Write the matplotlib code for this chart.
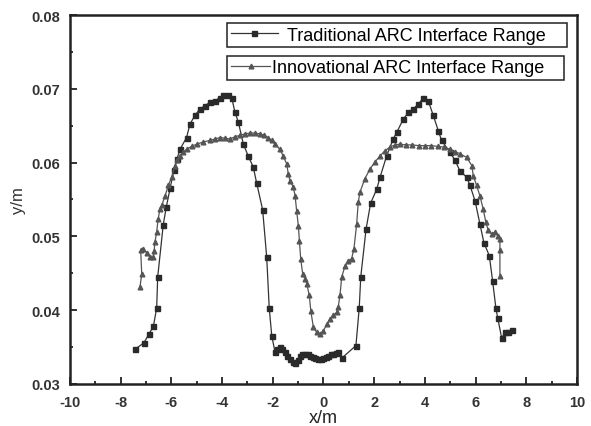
import matplotlib
matplotlib.use("Agg")
import matplotlib.pyplot as plt
from matplotlib.ticker import MultipleLocator, FormatStrFormatter

plt.rcParams["font.family"] = ["Liberation Sans", "DejaVu Sans"]
plt.rcParams["axes.unicode_minus"] = False

# Traditional ARC interface range (square markers)
trad_x = [-7.43, -7.08, -6.88, -6.71, -6.58, -6.54, -6.32, -6.20, -6.05, -5.90,
          -5.78, -5.66, -5.40, -5.27, -5.07, -4.87, -4.67, -4.48, -4.28, -4.08,
          -3.95, -3.75, -3.62, -3.49, -3.36, -3.16, -2.97, -2.77, -2.64, -2.40,
          -2.24, -2.14, -2.04, -1.91, -1.82, -1.72, -1.62, -1.52, -1.42, -1.32,
          -1.22, -1.12, -1.02, -0.93, -0.83, -0.73, -0.63, -0.53, -0.43, -0.34,
          -0.20, -0.10, 0.00, 0.10, 0.19, 0.29, 0.39, 0.49, 0.58, 0.72,
          1.28, 1.41, 1.47, 1.68, 1.86, 2.10, 2.23, 2.49, 2.75, 2.89,
          3.15, 3.35, 3.54, 3.74, 3.94, 4.13, 4.33, 4.53, 4.66, 4.99,
          5.19, 5.38, 5.65, 5.78, 5.98, 6.17, 6.33, 6.54, 6.67, 6.80,
          6.87, 7.03, 7.16, 7.29, 7.42]
trad_y = [0.0347, 0.0356, 0.0368, 0.0378, 0.0403, 0.0445, 0.0516, 0.0540, 0.0565, 0.0590,
          0.0605, 0.0618, 0.0634, 0.0652, 0.0664, 0.0673, 0.0677, 0.0682, 0.0684, 0.0688,
          0.0691, 0.0691, 0.0688, 0.0668, 0.0655, 0.0625, 0.0609, 0.0594, 0.0573, 0.0536,
          0.0472, 0.0403, 0.0365, 0.0343, 0.0347, 0.0350, 0.0347, 0.0343, 0.0338, 0.0334,
          0.0330, 0.0329, 0.0333, 0.0338, 0.0340, 0.0341, 0.0340, 0.0338, 0.0336, 0.0335,
          0.0334, 0.0334, 0.0335, 0.0336, 0.0338, 0.0340, 0.0341, 0.0342, 0.0343, 0.0335,
          0.0352, 0.0403, 0.0445, 0.0510, 0.0545, 0.0564, 0.0580, 0.0609, 0.0632, 0.0641,
          0.0659, 0.0668, 0.0673, 0.0679, 0.0688, 0.0684, 0.0664, 0.0643, 0.0630, 0.0614,
          0.0603, 0.0589, 0.0580, 0.0569, 0.0548, 0.0517, 0.0491, 0.0474, 0.0440, 0.0403,
          0.0390, 0.0362, 0.0370, 0.0371, 0.0373]

# Innovational ARC interface range (triangle markers)
inno_x = [-7.24, -7.17, -7.21, -7.11, -6.97, -6.84, -6.71, -6.68, -6.65, -6.58,
          -6.52, -6.45, -6.38, -6.25, -6.12, -5.99, -5.86, -5.76, -5.66, -5.53,
          -5.40, -5.20, -5.00, -4.74, -4.48, -4.28, -4.08, -3.88, -3.69, -3.49,
          -3.29, -3.10, -2.90, -2.70, -2.50, -2.34, -2.18, -2.05, -1.91, -1.72,
          -1.59, -1.45, -1.39, -1.32, -1.19, -1.12, -1.06, -0.99, -0.95, -0.90,
          -0.82, -0.73, -0.66, -0.56, -0.50, -0.40, -0.27, -0.14, 0.00, 0.13,
          0.26, 0.39, 0.52, 0.58, 0.65, 0.72, 0.85, 0.98, 1.11, 1.20,
          1.31, 1.37, 1.44, 1.63, 1.83, 2.03, 2.23, 2.42, 2.62, 2.82,
          3.02, 3.26, 3.50, 3.75, 4.00, 4.25, 4.50, 4.75, 4.99, 5.19,
          5.38, 5.65, 5.85, 5.91, 6.04, 6.17, 6.30, 6.40, 6.50, 6.64,
          6.77, 6.90, 6.96, 6.96, 6.96]
inno_y = [0.0431, 0.0449, 0.0481, 0.0483, 0.0478, 0.0472, 0.0472, 0.0480, 0.0492, 0.0506,
          0.0524, 0.0537, 0.0542, 0.0555, 0.0569, 0.0580, 0.0596, 0.0603, 0.0609, 0.0614,
          0.0618, 0.0622, 0.0625, 0.0628, 0.0630, 0.0632, 0.0634, 0.0633, 0.0632, 0.0635,
          0.0637, 0.0639, 0.0640, 0.0640, 0.0639, 0.0637, 0.0634, 0.0630, 0.0625, 0.0618,
          0.0609, 0.0598, 0.0585, 0.0575, 0.0567, 0.0555, 0.0535, 0.0514, 0.0494, 0.0470,
          0.0449, 0.0442, 0.0436, 0.0420, 0.0399, 0.0377, 0.0370, 0.0368, 0.0372, 0.0381,
          0.0388, 0.0393, 0.0397, 0.0404, 0.0420, 0.0445, 0.0460, 0.0467, 0.0470, 0.0483,
          0.0517, 0.0546, 0.0560, 0.0578, 0.0591, 0.0601, 0.0609, 0.0616, 0.0621, 0.0624,
          0.0625, 0.0624, 0.0624, 0.0623, 0.0623, 0.0623, 0.0622, 0.0621, 0.0618, 0.0615,
          0.0612, 0.0607, 0.0596, 0.0582, 0.0569, 0.0555, 0.0537, 0.0520, 0.0508, 0.0503,
          0.0506, 0.0501, 0.0496, 0.0481, 0.0447]

fig = plt.figure(figsize=(5.91, 4.27), dpi=100)
ax = fig.add_axes([0.1184, 0.0984, 0.8579, 0.8641])

l1, = ax.plot(trad_x, trad_y, color="#333333", lw=0.9, marker="s", ms=3.6,
              mfc="#2a2a2a", mec="#2a2a2a", label="Traditional ARC Interface Range")
l2, = ax.plot(inno_x, inno_y, color="#555555", lw=0.9, marker="^", ms=3.4,
              mfc="#555555", mec="#555555", label="Innovational ARC Interface Range")

ax.set_xlim(-10, 10)
ax.set_ylim(0.03, 0.08)
ax.xaxis.set_major_locator(MultipleLocator(2))
ax.xaxis.set_minor_locator(MultipleLocator(1))
ax.yaxis.set_major_locator(MultipleLocator(0.01))
ax.yaxis.set_minor_locator(MultipleLocator(0.005))
ax.yaxis.set_major_formatter(FormatStrFormatter("%.2f"))
ax.tick_params(which="both", direction="in", top=False, right=False, width=1.3, color="#222222")
ax.tick_params(which="major", length=5, labelsize=10.5, labelcolor="#333333")
ax.tick_params(axis="x", which="major", pad=8)
ax.tick_params(axis="y", which="major", pad=7)
ax.tick_params(which="minor", length=2.5)
for lbl in ax.get_xticklabels() + ax.get_yticklabels():
    lbl.set_fontweight("bold")
for s in ax.spines.values():
    s.set_linewidth(1.8)
    s.set_color("#222222")

ax.set_xlabel("x/m", fontsize=13, color="#222222", labelpad=0)
ax.set_ylabel("y/m", fontsize=12, color="#333333", labelpad=4)

leg1 = ax.legend(handles=[l1], loc="lower left", bbox_to_anchor=(0.31, 0.913, 0.67, 0.065),
                 mode="expand", fancybox=False, edgecolor="#222222", framealpha=1,
                 fontsize=13, handlelength=2.6, handletextpad=0.5, borderpad=0.2,
                 borderaxespad=0)
leg1.get_frame().set_linewidth(1.1)
ax.add_artist(leg1)
leg2 = ax.legend(handles=[l2], loc="lower left", bbox_to_anchor=(0.31, 0.824, 0.665, 0.068),
                 mode="expand", fancybox=False, edgecolor="#222222", framealpha=1,
                 fontsize=13, handlelength=2.2, handletextpad=0.1, borderpad=0.2,
                 borderaxespad=0)
leg2.get_frame().set_linewidth(1.1)

fig.savefig("out.png", dpi=100)
